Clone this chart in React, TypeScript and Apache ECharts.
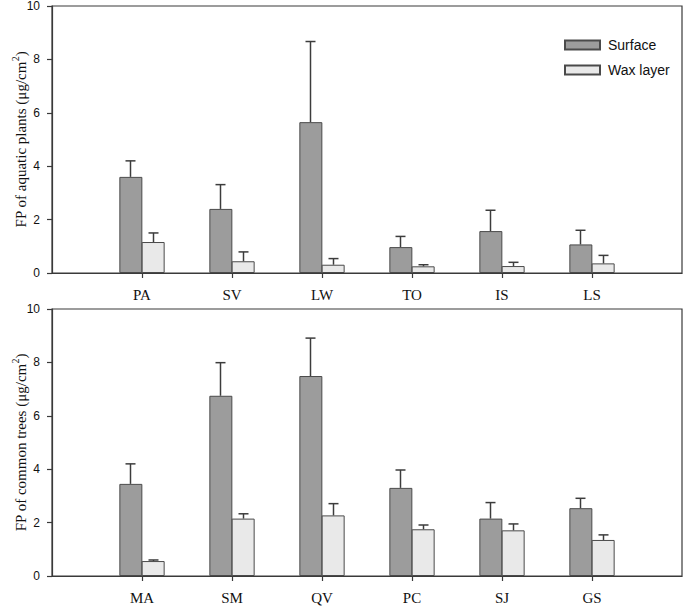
import React, { useEffect, useRef } from "react";
import * as echarts from "echarts";

const categoriesTop = ["PA", "SV", "LW", "TO", "IS", "LS"];
const surfaceTop = [3.6, 2.4, 5.65, 0.97, 1.57, 1.07];
const surfaceTopSd = [0.6, 0.91, 3.02, 0.4, 0.78, 0.53];
const waxTop = [1.16, 0.44, 0.31, 0.25, 0.26, 0.36];
const waxTopSd = [0.34, 0.35, 0.23, 0.06, 0.14, 0.3];

const categoriesBottom = ["MA", "SM", "QV", "PC", "SJ", "GS"];
const surfaceBottom = [3.45, 6.75, 7.49, 3.3, 2.15, 2.54];
const surfaceBottomSd = [0.75, 1.24, 1.42, 0.67, 0.6, 0.37];
const waxBottom = [0.56, 2.15, 2.27, 1.75, 1.71, 1.35];
const waxBottomSd = [0.04, 0.18, 0.44, 0.16, 0.24, 0.19];

const yTicks = [0, 2, 4, 6, 8, 10];

const SURFACE_COLOR = "#9c9c9c";
const WAX_COLOR = "#e9e9e9";
const EDGE = "#4a4a4a";
const AXIS = "#3a3a3a";
const BAR_W = 23;

function padCats(c: string[]) {
  return ["", ...c, ""];
}
function padVals(v: number[]) {
  return ["-", ...v, "-"];
}

function errSeries(vals: number[], sd: number[], idx: number, dx: number) {
  return {
    type: "custom",
    xAxisIndex: idx,
    yAxisIndex: idx,
    z: 5,
    silent: true,
    data: vals.map((v, i) => [i + 1, v, v + sd[i]]),
    encode: { x: 0, y: [1, 2] },
    renderItem: (params: any, api: any) => {
      const base = api.coord([api.value(0), api.value(1)]);
      const top = api.coord([api.value(0), api.value(2)]);
      const x = base[0] + dx;
      const style = { stroke: "#3c3c3c", lineWidth: 1.5 };
      return {
        type: "group",
        children: [
          { type: "line", shape: { x1: x, y1: base[1], x2: x, y2: top[1] }, style },
          { type: "line", shape: { x1: x - 5, y1: top[1], x2: x + 5, y2: top[1] }, style },
        ],
      };
    },
  };
}

function barSeries(name: string, vals: number[], idx: number, color: string) {
  return {
    name,
    type: "bar",
    xAxisIndex: idx,
    yAxisIndex: idx,
    barWidth: BAR_W,
    barGap: "-3%",
    data: padVals(vals),
    itemStyle: { color, borderColor: EDGE, borderWidth: 1 },
  };
}

function xAxis(cats: string[], idx: number) {
  return {
    type: "category",
    gridIndex: idx,
    boundaryGap: false,
    data: padCats(cats),
    axisLine: { lineStyle: { color: AXIS, width: 1.2 } },
    axisTick: {
      show: true,
      length: 5,
      interval: (i: number) => i > 0 && i < cats.length + 1,
      lineStyle: { color: AXIS, width: 1.2 },
    },
    axisLabel: {
      interval: 0,
      margin: 14,
      fontFamily: "Liberation Serif",
      fontSize: 15,
      color: "#111",
    },
    splitLine: { show: false },
  };
}

function yAxis(title: string, idx: number) {
  return {
    type: "value",
    gridIndex: idx,
    min: 0,
    max: 10,
    interval: 2,
    name: `{a|${title} (μg/cm}{s|2}{a|)}`,
    nameLocation: "middle",
    nameRotate: 90,
    nameGap: 24,
    nameMoveOverlap: false,
    nameTextStyle: {
      rich: {
        a: { fontFamily: "Liberation Serif", fontSize: 15, color: "#111", lineHeight: 18, verticalAlign: "bottom" },
        s: { fontFamily: "Liberation Serif", fontSize: 10, color: "#111", lineHeight: 18, verticalAlign: "top" },
      },
    },
    axisLine: { show: true, lineStyle: { color: AXIS, width: 1.2 } },
    axisTick: { show: true, length: 5, lineStyle: { color: AXIS, width: 1.2 } },
    axisLabel: {
      margin: 12,
      fontFamily: "Liberation Sans",
      fontSize: 12,
      color: "#111",
      formatter: (v: number) => (yTicks.includes(v) ? String(v) : ""),
    },
    splitLine: { show: false },
  };
}

export default function App() {
  const ref = useRef<HTMLDivElement>(null);
  useEffect(() => {
    if (!ref.current) return;
    const chart = echarts.init(ref.current, null, { renderer: "svg" });
    const gridBase = {
      left: 52,
      width: 630,
      height: 267,
      show: true,
      borderColor: AXIS,
      borderWidth: 1.2,
      backgroundColor: "transparent",
      containLabel: false,
      outerBoundsMode: "none",
    };
    chart.setOption({
      animation: false,
      backgroundColor: "#ffffff",
      grid: [
        { ...gridBase, top: 6 },
        { ...gridBase, top: 309 },
      ],
      legend: {
        data: ["Surface", "Wax layer"],
        orient: "vertical",
        left: 564,
        top: 38,
        padding: 0,
        itemWidth: 35,
        itemHeight: 9,
        itemGap: 11,
        icon: "rect",
        selectedMode: false,
        textStyle: { fontFamily: "Liberation Sans", fontSize: 14, color: "#111", padding: [0, 0, 0, 3] },
      },
      xAxis: [xAxis(categoriesTop, 0), xAxis(categoriesBottom, 1)],
      yAxis: [yAxis("FP of aquatic plants", 0), yAxis("FP of common trees", 1)],
      series: [
        barSeries("Surface", surfaceTop, 0, SURFACE_COLOR),
        barSeries("Wax layer", waxTop, 0, WAX_COLOR),
        barSeries("Surface", surfaceBottom, 1, SURFACE_COLOR),
        barSeries("Wax layer", waxBottom, 1, WAX_COLOR),
        errSeries(surfaceTop, surfaceTopSd, 0, -BAR_W / 2),
        errSeries(waxTop, waxTopSd, 0, BAR_W / 2),
        errSeries(surfaceBottom, surfaceBottomSd, 1, -BAR_W / 2),
        errSeries(waxBottom, waxBottomSd, 1, BAR_W / 2),
      ],
    });
    return () => chart.dispose();
  }, []);
  return (
    <div
      ref={ref}
      style={{ position: "fixed", left: 0, top: 0, width: 685, height: 608, background: "#fff" }}
    />
  );
}
